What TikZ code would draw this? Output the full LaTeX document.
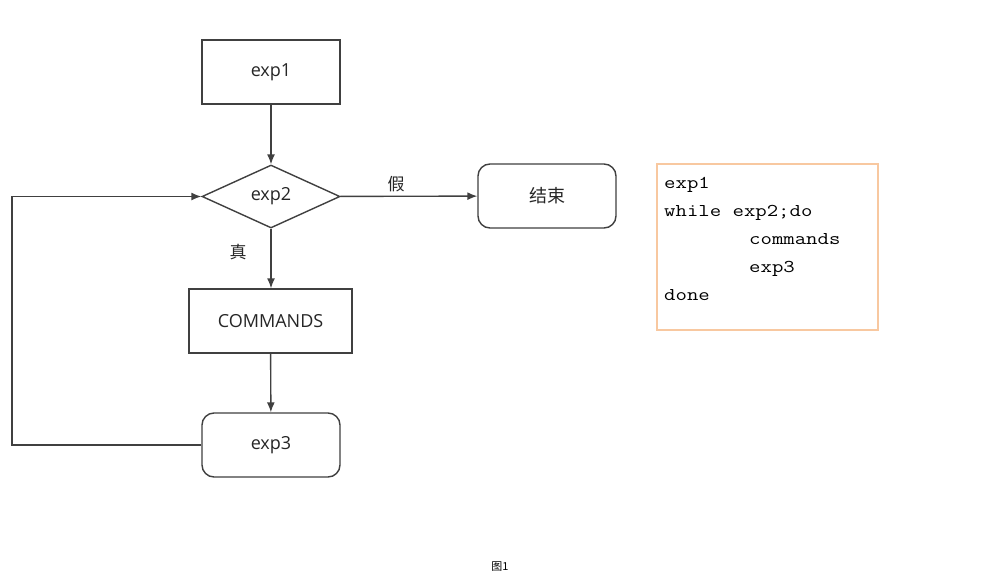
\documentclass[tikz,border=0pt]{standalone}
\usepackage{fontspec}
\setmainfont{Open Sans}
\newfontfamily\cjk{Noto Sans CJK SC}
\newfontfamily\codefont[FakeStretch=1.23]{Latin Modern Mono}
\usetikzlibrary{shapes.geometric,arrows.meta}
\definecolor{linegray}{HTML}{404040}
\definecolor{codeorange}{HTML}{F8C8A0}
\tikzset{
  boxnode/.style={draw=linegray, line width=1.4pt, fill=white, minimum width=138pt, minimum height=64pt, inner sep=0pt, font=\fontsize{18}{20}\selectfont, text=black!85},
  roundbox/.style={boxnode, rounded corners=12pt},
  decision/.style={boxnode, diamond, aspect=2.2, minimum width=138pt, minimum height=63pt},
  flowarrow/.style={draw=linegray, line width=1.4pt, -{Latex[length=10pt,width=8pt]}},
  lbl/.style={font=\cjk\fontsize{17}{19}\selectfont, text=black!85, inner sep=0pt},
}
\begin{document}
\begin{tikzpicture}[x=1pt,y=-1pt]
\useasboundingbox (0,0) rectangle (996,584);
\fill[white] (0,0) rectangle (996,584);

\node[boxnode] (e1) at (271,72) {exp1};
\node[decision] (e2) at (271,196.5) {exp2};
\node[roundbox, font=\cjk\fontsize{18}{20}\selectfont] (fin) at (547,196) {结束};
\node[boxnode, minimum width=163pt] (cmd) at (270.5,321) {COMMANDS};
\node[roundbox] (e3) at (271,445) {exp3};

\draw[flowarrow] (e1) -- (e2);
\draw[flowarrow] (e2) -- (fin);
\draw[flowarrow] (e2) -- (e2 |- cmd.north);
\draw[flowarrow] (cmd) -- (e3);
\coordinate (lc) at (12,445);
\draw[flowarrow] (e3.west) -- (lc) |- (e2.west);

\node[lbl] (f) at (396,184) {假};
\node[lbl] (t) at (238,252) {真};

\node[draw=codeorange, line width=2pt, minimum width=221pt, minimum height=166pt] (code) at (767.5,247) {};
\node[anchor=north west, align=left, inner sep=0pt, font=\codefont\fontsize{18}{28}\selectfont] (codetext) at (664,177)
{exp1\\while exp2;do\\\hspace{85pt}commands\\\hspace{85pt}exp3\\done};

\node[font=\cjk\fontsize{11}{13}\selectfont, inner sep=0pt] (cap) at (500,567) {图1};
\end{tikzpicture}
\end{document}
